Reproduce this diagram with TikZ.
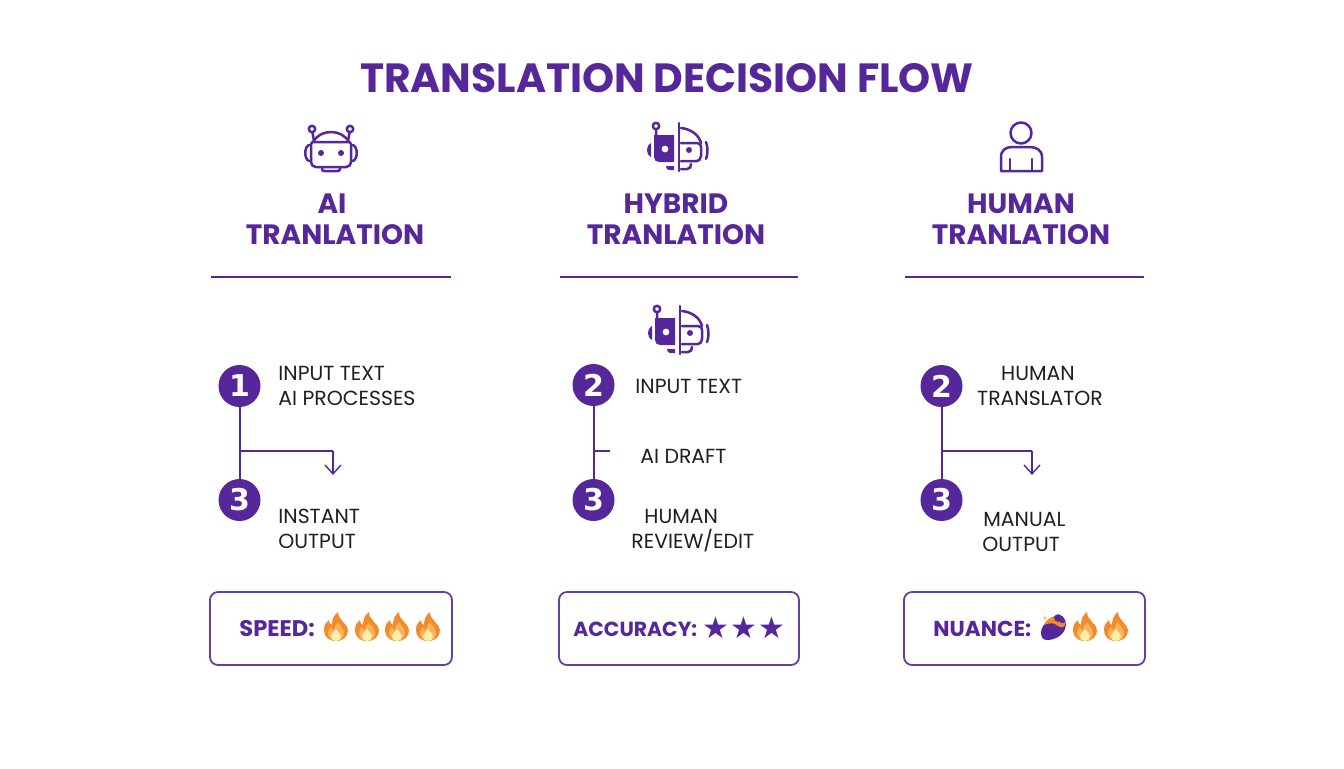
\documentclass[tikz,border=0pt]{standalone}
\usepackage{fontspec}
\setmainfont{Poppins}
\newfontfamily\symfont{DejaVu Sans}
\usetikzlibrary{arrows.meta}
\definecolor{vio}{HTML}{56279A}
\definecolor{ink}{HTML}{1E1E24}
\definecolor{flameA}{HTML}{F58A2A}
\definecolor{flameB}{HTML}{FBB25C}
\definecolor{flameC}{HTML}{FDEFA8}
\tikzset{
  titletext/.style={text=vio,font=\fontsize{20.4}{22}\selectfont\bfseries,anchor=base,inner sep=0pt},
  headtext/.style={text=vio,font=\fontsize{14}{15}\selectfont\bfseries,anchor=base,inner sep=0pt},
  bodytext/.style={text=ink,font=\fontsize{10.2}{11}\selectfont,anchor=base,inner sep=0pt},
  badgetext/.style={text=vio,font=\fontsize{#1}{12}\selectfont\bfseries,anchor=base west,inner sep=0pt},
  stepdot/.style={circle,fill=vio,text=white,minimum size=21pt,inner sep=0pt,font=\symfont\fontsize{15}{15}\selectfont\bfseries},
  rule/.style={draw=vio,line width=.8pt},
  flow/.style={draw=vio,line width=1pt},
  flowarrow/.style={flow,-{Straight Barb[length=4.5pt,width=8pt,line width=.7pt]}},
  badge/.style={draw=vio!90!white,line width=.9pt,rounded corners=4pt},
  icon/.style={draw=vio,line width=1.25pt,line cap=round,line join=round},
  flame/.pic={
    \fill[flameA] (0,14) .. controls (-8,14) and (-12,9) .. (-12,3) .. controls (-12,-2) and (-10,-5) .. (-7,-7) .. controls (-7,-4) and (-6,-3) .. (-4,-2) .. controls (-4,-8) and (-2,-12) .. (2,-15) .. controls (2,-10) and (5,-8) .. (7,-5) .. controls (10,-2) and (12,0) .. (12,3) .. controls (12,9) and (8,14) .. (0,14) -- cycle;
    \fill[flameB] (0,14) .. controls (-5,14) and (-8,10) .. (-8,6) .. controls (-8,3) and (-6,1) .. (-5,0) .. controls (-4,2) and (-3,3) .. (-2,3) .. controls (-2,0) and (0,-3) .. (2,-5) .. controls (3,-2) and (8,1) .. (8,6) .. controls (8,10) and (5,14) .. (0,14) -- cycle;
    \fill[flameC] (0,14) .. controls (-3,14) and (-5,12) .. (-5,9) .. controls (-5,7) and (-2,5) .. (0,2) .. controls (2,5) and (5,7) .. (5,9) .. controls (5,12) and (3,14) .. (0,14) -- cycle;
  },
  hybridicon/.pic={
    \draw[icon] (0,0) -- (0,48);
    \fill[vio,even odd rule] (-25,12) -- (-5,12) -- (-5,39) -- (-20,39) .. controls (-23,39) and (-25,37) .. (-25,34) -- cycle
      (-14,26) circle[radius=3.5];
    \draw[icon] (-23,3) circle[radius=3.2] (-23,6.5) -- (-23,12);
    \fill[vio] (-28,20) -- (-28,34) .. controls (-31,32) and (-32,30) .. (-32,27) .. controls (-32,24) and (-31,22) .. (-28,20) -- cycle;
    \fill[vio] (-13,43) -- (-5,43) -- (-5,47) -- (-10,47) .. controls (-12,47) and (-13,45) .. (-13,43) -- cycle;
    \draw[icon] (2,5) .. controls (12,6) and (20,12) .. (22,20);
    \draw[icon] (2,20) -- (18,20) .. controls (21,20) and (22,22) .. (22,24) -- (22,33) .. controls (22,36) and (20,38) .. (18,38) -- (2,38);
    \fill[vio] (10,27) circle[radius=3];
    \draw[icon] (27,19) .. controls (29,24) and (29,31) .. (27,36);
    \draw[icon] (2,46) -- (8,46) .. controls (11,46) and (12,44) .. (12,41);
  }
}
\begin{document}
\begin{tikzpicture}[x=.5pt,y=-.5pt]
\useasboundingbox (0,0) rectangle (1344,768);
\fill[white] (0,0) rectangle (1344,768);

\node[titletext] (title) at (667,92) {TRANSLATION DECISION FLOW};

% icons
\begin{scope}[shift={(331,150)}]
  \draw[icon] (-20,-6) -- (-20,12) .. controls (-20,15) and (-18,17) .. (-15,17) -- (15,17) .. controls (18,17) and (20,15) .. (20,12) -- (20,-6) .. controls (20,-8) and (18,-8) .. (16,-8) -- (-16,-8) .. controls (-18,-8) and (-20,-8) .. (-20,-6) -- cycle;
  \draw[icon] (-18,-8) .. controls (-14,-15) and (-7,-18) .. (0,-18) .. controls (7,-18) and (14,-15) .. (18,-8);
  \draw[icon] (-19,-21) circle[radius=3.2] (19,-21) circle[radius=3.2];
  \draw[icon] (-18.5,-17.5) -- (-17,-9) (18.5,-17.5) -- (17,-9);
  \fill[vio] (-10,3) circle[radius=3] (10,3) circle[radius=3];
  \draw[icon] (-22,-5) .. controls (-27,-3) and (-27,9) .. (-22,11);
  \draw[icon] (22,-5) .. controls (27,-3) and (27,9) .. (22,11);
  \draw[icon] (-9,17) -- (-9,19) .. controls (-9,21) and (-8,21) .. (-6,21) -- (6,21) .. controls (8,21) and (9,21) .. (9,19) -- (9,17);
\end{scope}
\pic at (679,123) {hybridicon};
\pic at (680,306) {hybridicon};
\begin{scope}[shift={(1021,133)}]
  \draw[icon] (0,0) circle[radius=10.5];
  \draw[icon] (-20,38) -- (-20,24) .. controls (-20,17) and (-15,14) .. (-9,14) -- (9,14) .. controls (15,14) and (21,17) .. (21,24) -- (21,38) -- cycle;
  \draw[icon] (-11,26) -- (-11,38) (11,26) -- (11,38);
\end{scope}

% headings
\node[headtext] (h1a) at (332,213) {AI};
\node[headtext] (h1b) at (335,244) {TRANLATION};
\node[headtext] (h2a) at (676,213) {HYBRID};
\node[headtext] (h2b) at (676,244) {TRANLATION};
\node[headtext] (h3a) at (1021,213) {HUMAN};
\node[headtext] (h3b) at (1021,244) {TRANLATION};

% rules
\coordinate (r1a) at (211,277); \coordinate (r1b) at (451,277);
\coordinate (r2a) at (560,277); \coordinate (r2b) at (798,277);
\coordinate (r3a) at (905,277); \coordinate (r3b) at (1144,277);
\draw[rule] (r1a) -- (r1b);
\draw[rule] (r2a) -- (r2b);
\draw[rule] (r3a) -- (r3b);

% steps
\node[stepdot] (s11) at (239.5,386) {1};
\node[stepdot] (s13) at (239.5,500) {3};
\node[stepdot] (s22) at (593.5,385) {2};
\node[stepdot] (s23) at (593.5,500) {3};
\node[stepdot] (s32) at (941.5,386) {2};
\node[stepdot] (s33) at (941.5,500) {3};
\draw[flow] (s11) -- (s13);
\draw[flow] (s22) -- (s23);
\draw[flow] (s32) -- (s33);

\coordinate (b1) at (239.5,451); \coordinate (b1e) at (333,451); \coordinate (b1t) at (333,475);
\draw[flow] (b1) -- (b1e);
\draw[flowarrow] (b1e) -- (b1t);
\coordinate (b2) at (593.5,451); \coordinate (b2e) at (610,451);
\draw[flow] (b2) -- (b2e);
\coordinate (b3) at (941.5,451); \coordinate (b3e) at (1032,451); \coordinate (b3t) at (1032,475);
\draw[flow] (b3) -- (b3e);
\draw[flowarrow] (b3e) -- (b3t);

% step labels
\node[bodytext,anchor=base west] (t1) at (278,380) {INPUT TEXT};
\node[bodytext,anchor=base west] (t2) at (278,405) {AI PROCESSES};
\node[bodytext,anchor=base west] (t3) at (278,523) {INSTANT};
\node[bodytext,anchor=base west] (t4) at (278,548) {OUTPUT};
\node[bodytext,anchor=base west] (t5) at (635,393) {INPUT TEXT};
\node[bodytext,anchor=base west] (t6) at (640,463) {AI DRAFT};
\node[bodytext,anchor=base west] (t7) at (644,523) {HUMAN};
\node[bodytext,anchor=base west] (t8) at (631,548) {REVIEW/EDIT};
\node[bodytext] (t9) at (1038,380) {HUMAN};
\node[bodytext] (t10) at (1040,405) {TRANSLATOR};
\node[bodytext,anchor=base west] (t11) at (983,526) {MANUAL};
\node[bodytext,anchor=base west] (t12) at (982,551) {OUTPUT};

% badges
\draw[badge] (210,592) rectangle (452,665);
\draw[badge] (559,592) rectangle (799,665);
\draw[badge] (904,592) rectangle (1145,665);

\node[badgetext=11.3] (b1l) at (239,636) {SPEED:};
\pic at (336,627) {flame};
\pic at (367,627) {flame};
\pic at (397,627) {flame};
\pic at (428,627) {flame};

\node[badgetext=10.2] (b2l) at (573,636) {ACCURACY:};
\node[text=vio,inner sep=0pt,font=\symfont\fontsize{15}{15}\selectfont] (st1) at (716,628) {★};
\node[text=vio,inner sep=0pt,font=\symfont\fontsize{15}{15}\selectfont] (st2) at (744,628) {★};
\node[text=vio,inner sep=0pt,font=\symfont\fontsize{15}{15}\selectfont] (st3) at (772,628) {★};

\node[badgetext=10.8] (b3l) at (933,636) {NUANCE:};
% nuance blob
\fill[vio] (1041,633) .. controls (1041,625) and (1050,617) .. (1058,615) .. controls (1066,615) and (1067,624) .. (1065,629) .. controls (1062,637) and (1053,640) .. (1047,640) .. controls (1043,640) and (1041,637) .. (1041,633) -- cycle;
\fill[flameA] (1044,625) .. controls (1047,618) and (1052,616) .. (1057,618) .. controls (1060,624) and (1063,624) .. (1065,622) .. controls (1066,628) and (1061,628) .. (1058,626) .. controls (1054,622) and (1049,623) .. (1044,625) -- cycle;
\fill[vio] (1058,618) circle[radius=3.8];
\fill[flameB] (1045,618) circle[radius=1.6];
\pic at (1085,627) {flame};
\pic at (1116,627) {flame};
\end{tikzpicture}
\end{document}
